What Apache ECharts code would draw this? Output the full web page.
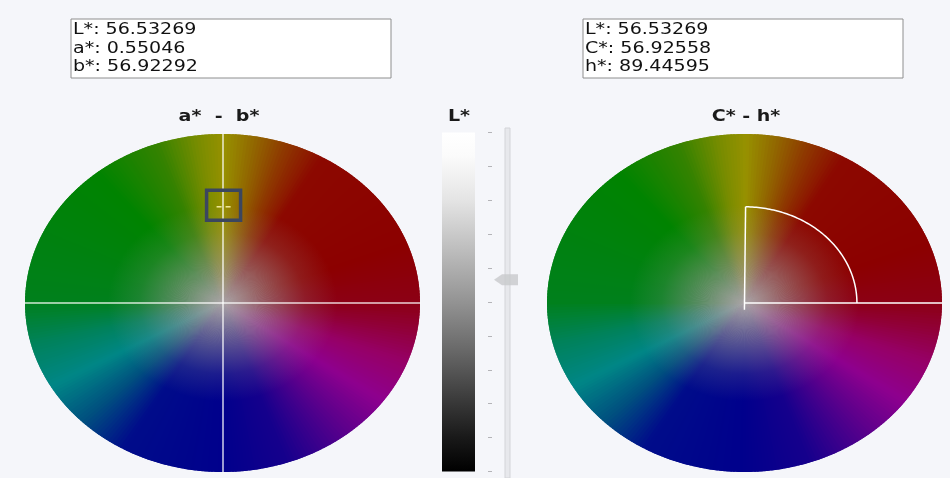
<!DOCTYPE html>
<html>
<head>
<meta charset="utf-8">
<script src="https://cdn.jsdelivr.net/npm/echarts@6/dist/echarts.min.js"></script>
<style>
html, body { margin: 0; padding: 0; background: #f5f6fa; }
#chart { width: 950px; height: 478px; }
</style>
</head>
<body>
<div id="chart"></div>
<script>
// Current colour in CIE L*a*b* and its L*C*h* form
const labNames = ['L*', 'a*', 'b*'];
const labValues = [56.53269, 0.55046, 56.92292];
const lchNames = ['L*', 'C*', 'h*'];
const lchValues = [56.53269, 56.92558, 89.44595];

// Panel titles
const wheelTitles = ['a*  -  b*', 'C* - h*'];
const lightnessTitle = 'L*';

// Chroma reach of both wheels, lightness scale
const chromaMax = 100;
const lightnessMin = 0;
const lightnessMax = 100;
const lightnessStep = 10;

// Hue stops around the wheel, degrees (0 = +a*, 90 = +b*)
const hueAngles = [-180, -165, -150, -135, -120, -90, -70, -50, -35, -20, -8, 0, 20, 60, 72, 82, 90, 98, 110, 130, 180];

// Rim colour at each hue stop, and the neutral centre
const hueColors = ['#00801c', '#00825c', '#008686', '#00507f', '#000c8a', '#00008c', '#16008c', '#5c008c', '#8e008e', '#960066',
                   '#900034', '#8c0016', '#8c0000', '#8c0800', '#8e3a00', '#926c00', '#979100', '#788c00', '#348200', '#008300', '#00801c'];
const neutralColor = '#9c9597';
const lightnessStops = [
  [0, '#ffffff'], [0.07, '#fbfbfb'], [0.2, '#e4e4e4'], [0.35, '#bcbcbc'], [0.5, '#939393'],
  [0.65, '#666666'], [0.8, '#373737'], [0.9, '#191919'], [1, '#000000']
];

function hexRgb(h) {
  return [parseInt(h.slice(1, 3), 16), parseInt(h.slice(3, 5), 16), parseInt(h.slice(5, 7), 16)];
}
function mixRgb(a, b, t) {
  return 'rgb(' + a.map((v, k) => Math.round(v + (b[k] - v) * t)).join(',') + ')';
}
const rad = d => d * Math.PI / 180;

// One hue segment of the wheel: thin wedges, each shaded from the neutral centre out to the rim colour
function renderWheel(params, api) {
  const i = params.dataIndex;
  const h0 = api.value(2), h1 = api.value(3);
  const c0 = hexRgb(hueColors[i]), c1 = hexRgb(hueColors[i + 1]);
  const grey = hexRgb(neutralColor);
  const cen = api.coord([api.value(0), api.value(1)]);
  const at = (deg, r) => api.coord([r * Math.cos(rad(deg)), r * Math.sin(rad(deg))]);
  const n = Math.max(1, Math.ceil(h1 - h0));
  const d = (h1 - h0) / n;
  const children = [];
  for (let k = 0; k < n; k++) {
    const t0 = h0 + k * d, t1 = t0 + d, tm = (t0 + t1) / 2;
    const f = (tm - h0) / (h1 - h0);
    const rgb = c0.map((v, j) => v + (c1[j] - v) * f);
    const full = mixRgb(rgb, rgb, 0);
    const rim = at(tm, chromaMax);
    children.push({
      type: 'polygon',
      silent: true,
      shape: { points: [cen, at(t0 - 0.45, chromaMax), rim, at(t1 + 0.45, chromaMax)] },
      style: {
        fill: new echarts.graphic.LinearGradient(cen[0], cen[1], rim[0], rim[1], [
          { offset: 0, color: mixRgb(grey, rgb, 0) },
          { offset: 0.2, color: mixRgb(grey, rgb, 0.38) },
          { offset: 0.42, color: mixRgb(grey, rgb, 0.82) },
          { offset: 0.58, color: full },
          { offset: 1, color: full }
        ], true)
      }
    });
  }
  return { type: 'group', children };
}

// Selection box round the current a*, b*
function renderPicker(params, api) {
  const p = api.coord([api.value(0), api.value(1)]);
  return {
    type: 'group',
    children: [
      { type: 'rect', shape: { x: p[0] - 17, y: p[1] - 16.5, width: 34, height: 30 },
        style: { fill: 'none', stroke: '#3b465f', lineWidth: 3.5 } },
      { type: 'line', shape: { x1: p[0] - 7, y1: p[1], x2: p[0] - 2, y2: p[1] },
        style: { stroke: '#f3ec9c', lineWidth: 1.5 } },
      { type: 'line', shape: { x1: p[0] + 2, y1: p[1], x2: p[0] + 7, y2: p[1] },
        style: { stroke: '#f3ec9c', lineWidth: 1.5 } }
    ]
  };
}

// Chroma radius, hue angle and the arc between hue 0 and the current hue
function renderHueArc(params, api) {
  const C = api.value(0), h = api.value(1);
  const at = (deg, r) => api.coord([r * Math.cos(rad(deg)), r * Math.sin(rad(deg))]);
  const cen = at(0, 0);
  const arc = [];
  for (let t = 0; t < h; t += 1) arc.push(at(t, C));
  arc.push(at(h, C));
  const line = { fill: 'none', stroke: '#ffffff', lineWidth: 1.5 };
  return {
    type: 'group',
    children: [
      { type: 'polyline', shape: { points: [at(h, -4), at(h, C)] }, style: line },
      { type: 'polyline', shape: { points: [cen, at(0, chromaMax)] }, style: line },
      { type: 'polyline', shape: { points: arc }, style: line }
    ]
  };
}

const wheelData = hueAngles.slice(0, -1).map((h, i) => [0, 0, h, hueAngles[i + 1]]);

const hiddenValueAxis = (idx, extra) => Object.assign({
  type: 'value', gridIndex: idx, min: -chromaMax, max: chromaMax,
  axisLabel: { show: false }, axisTick: { show: false }, splitLine: { show: false },
  axisLine: { show: false }
}, extra || {});

const crossLine = { show: true, onZero: true, lineStyle: { color: 'rgba(255,255,255,0.82)', width: 1.5 } };

const textFont = '16px "DejaVu Sans"';
const titleFont = 'bold 16px "DejaVu Sans"';
const stretch = 1.19;

function readoutBox(x, names, values) {
  const children = [
    { type: 'rect', shape: { x: 0, y: 0, width: 320, height: 59 },
      style: { fill: '#ffffff', stroke: '#8e8e8e', lineWidth: 1 } }
  ];
  names.forEach((nm, i) => {
    children.push({
      type: 'text', x: 2, y: 11 + i * 18.5, scaleX: stretch,
      style: { text: nm + ': ' + values[i].toFixed(5), font: textFont, fill: '#111111',
               align: 'left', verticalAlign: 'middle' }
    });
  });
  return { type: 'group', x: x, y: 19, children };
}

function title(x, text) {
  return { type: 'text', x: x, y: 117, scaleX: stretch,
           style: { text, font: titleFont, fill: '#1a1a1a', align: 'center', verticalAlign: 'middle' } };
}

const chart = echarts.init(document.getElementById('chart'), null, { renderer: 'canvas' });
chart.setOption({
  backgroundColor: '#f5f6fa',
  animation: false,
  grid: [
    { left: 25, top: 134, width: 395, height: 338 },
    { left: 547, top: 134, width: 395, height: 338 },
    { left: 442, top: 132.5, width: 33, height: 339 }
  ],
  xAxis: [
    hiddenValueAxis(0, { axisLine: crossLine, z: 5 }),
    hiddenValueAxis(1),
    { type: 'category', gridIndex: 2, data: [lightnessTitle], show: false }
  ],
  yAxis: [
    hiddenValueAxis(0, { axisLine: crossLine, z: 5 }),
    hiddenValueAxis(1),
    { type: 'value', gridIndex: 2, min: lightnessMin, max: lightnessMax, interval: lightnessStep,
      position: 'right', offset: 13,
      axisLine: { show: false }, axisLabel: { show: false }, splitLine: { show: false },
      axisTick: { show: true, length: 4, lineStyle: { color: '#b4b4b8', width: 1 } } }
  ],
  graphic: [
    readoutBox(71, labNames, labValues),
    readoutBox(583, lchNames, lchValues),
    title(219, wheelTitles[0]),
    title(746, wheelTitles[1]),
    title(459, lightnessTitle),
    { type: 'rect', z: 0, shape: { x: 505, y: 128, width: 5, height: 350 },
      style: { fill: '#e7e8ec', stroke: '#d3d4d8', lineWidth: 1 } }
  ],
  series: [
    { type: 'custom', xAxisIndex: 0, yAxisIndex: 0, data: wheelData, renderItem: renderWheel, silent: true, z: 1 },
    { type: 'custom', xAxisIndex: 1, yAxisIndex: 1, data: wheelData, renderItem: renderWheel, silent: true, z: 1 },
    { type: 'custom', xAxisIndex: 0, yAxisIndex: 0, data: [[labValues[1], labValues[2]]], renderItem: renderPicker, silent: true, z: 6 },
    { type: 'custom', xAxisIndex: 1, yAxisIndex: 1, data: [[lchValues[1], lchValues[2]]], renderItem: renderHueArc, silent: true, z: 6 },
    { type: 'bar', xAxisIndex: 2, yAxisIndex: 2, data: [lightnessMax], barWidth: 33, silent: true,
      itemStyle: { color: new echarts.graphic.LinearGradient(0, 0, 0, 1,
        lightnessStops.map(s => ({ offset: s[0], color: s[1] }))) } },
    { type: 'scatter', xAxisIndex: 2, yAxisIndex: 2, data: [[0, labValues[0]]], silent: true, z: 5,
      symbol: 'path://M0,5.5 L8,0 L24,0 L24,11 L8,11 Z', symbolSize: [24, 11], symbolOffset: [47.5, 0],
      itemStyle: { color: '#c8c9cc' } }
  ]
});
</script>
</body>
</html>
